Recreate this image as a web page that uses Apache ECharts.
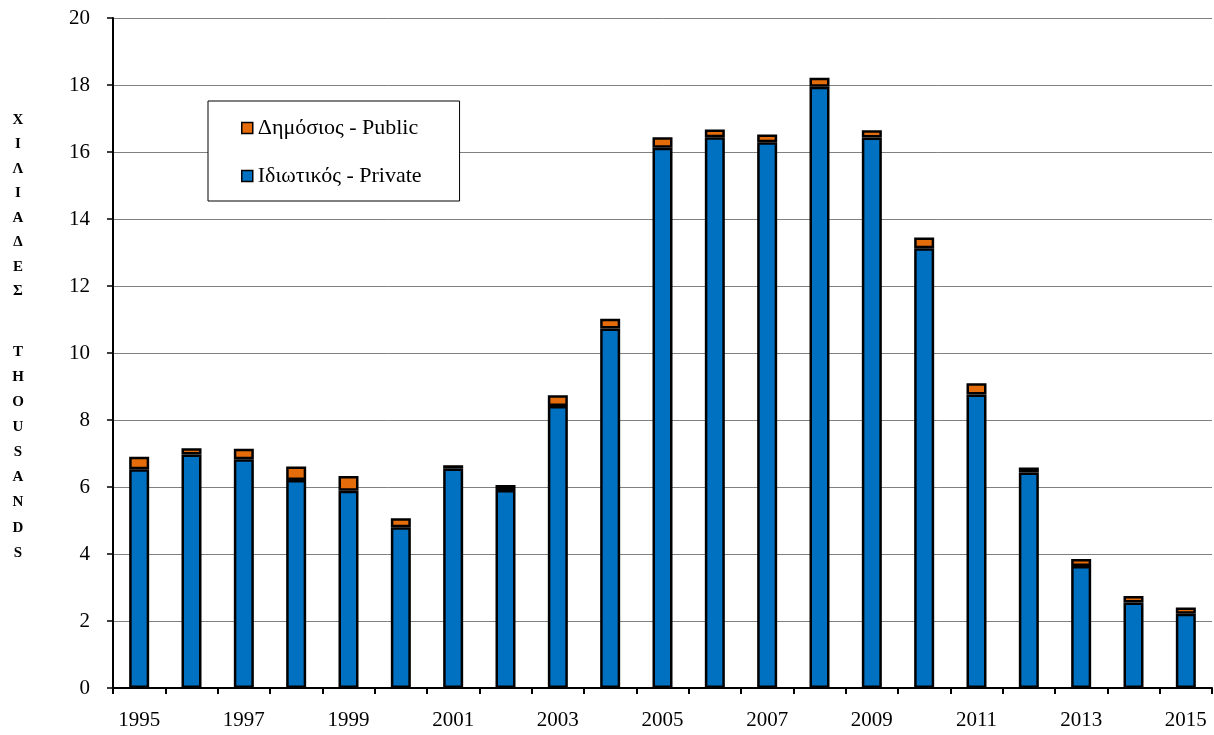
<!DOCTYPE html>
<html>
<head>
<meta charset="utf-8">
<script src="https://cdn.jsdelivr.net/npm/echarts@6/dist/echarts.min.js"></script>
<style>
html,body{margin:0;padding:0;background:#fff;}
#chart{width:1214px;height:735px;}
</style>
</head>
<body>
<div id="chart"></div>
<script>
const years = ['1995','1996','1997','1998','1999','2000','2001','2002','2003','2004','2005','2006','2007','2008','2009','2010','2011','2012','2013','2014','2015'];
const privateVals = [6.53,6.97,6.83,6.21,5.89,4.80,6.55,5.91,8.42,10.73,16.13,16.44,16.29,17.95,16.43,13.13,8.76,6.43,3.64,2.55,2.22];
const publicVals  = [0.37,0.19,0.31,0.40,0.44,0.27,0.10,0.15,0.32,0.29,0.31,0.23,0.23,0.27,0.22,0.32,0.34,0.15,0.21,0.20,0.18];
const yTicks = [0,2,4,6,8,10,12,14,16,18,20];
const nameGreek = ['Χ','Ι','Λ','Ι','Α','Δ','Ε','Σ'];
const nameEnglish = ['T','H','O','U','S','A','N','D','S'];
const privateName = 'Ιδιωτικός - Private';
const publicName = 'Δημόσιος - Public';

const serif = 'Liberation Serif';
const chart = echarts.init(document.getElementById('chart'));

const graphics = [];
nameGreek.forEach((ch, i) => {
  graphics.push({type:'text', x: 18, y: 120 + i*24.5, style:{text: ch, font: 'bold 15px "Liberation Serif"', fill:'#000', align:'center', verticalAlign:'middle'}});
});
nameEnglish.forEach((ch, i) => {
  graphics.push({type:'text', x: 18, y: 352 + i*25.1, style:{text: ch, font: 'bold 15px "Liberation Serif"', fill:'#000', align:'center', verticalAlign:'middle'}});
});

chart.setOption({
  animation: false,
  backgroundColor: '#fff',
  grid: {left: 113, right: 2, top: 18, bottom: 47, containLabel: false},
  legend: {
    orient: 'vertical',
    left: 208, top: 101,
    data: [publicName, privateName],
    backgroundColor: '#fff',
    borderColor: '#000',
    borderWidth: 1,
    padding: [16, 38, 14, 33],
    itemGap: 26,
    itemWidth: 11,
    itemHeight: 11,
    icon: 'rect',
    itemStyle: {borderColor: '#000', borderWidth: 1.5},
    textStyle: {fontFamily: serif, fontSize: 22, color: '#000', lineHeight: 20}
  },
  xAxis: {
    type: 'category',
    data: years,
    boundaryGap: true,
    axisLine: {lineStyle: {color: '#000', width: 2}},
    axisTick: {show: true, interval: 0, length: 6, lineStyle: {color: '#000', width: 2}},
    axisLabel: {interval: 1, margin: 22, fontFamily: serif, fontSize: 21, color: '#000'},
    splitLine: {show: false}
  },
  yAxis: {
    type: 'value',
    min: 0, max: 20, interval: 2,
    axisLine: {show: true, lineStyle: {color: '#000', width: 2}},
    axisTick: {show: true, length: 6, lineStyle: {color: '#000', width: 1.5}},
    axisLabel: {margin: 23, fontFamily: serif, fontSize: 21, color: '#000',
      formatter: v => yTicks.includes(v) ? String(v) : ''},
    splitLine: {show: true, lineStyle: {color: '#808080', width: 1}}
  },
  graphic: graphics,
  series: [
    {
      name: privateName, type: 'bar', stack: 'total', data: privateVals,
      barWidth: 20,
      itemStyle: {color: '#0070C0', borderColor: '#000', borderWidth: 2.5}
    },
    {
      name: publicName, type: 'bar', stack: 'total', data: publicVals,
      barWidth: 20,
      itemStyle: {color: '#E46C0A', borderColor: '#000', borderWidth: 2.5}
    }
  ]
});
</script>
</body>
</html>
